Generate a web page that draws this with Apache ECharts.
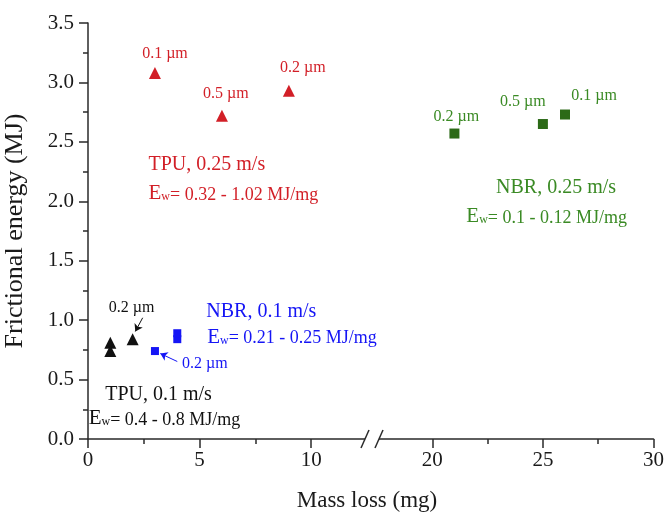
<!DOCTYPE html>
<html>
<head>
<meta charset="utf-8">
<script src="https://cdn.jsdelivr.net/npm/echarts@6/dist/echarts.min.js"></script>
<style>html,body{margin:0;padding:0;background:#fff}#c{width:667px;height:517px}</style>
</head>
<body>
<div id="c"></div>
<script>
// ---- data ----
const tpu025X = [3, 6, 9];
const tpu025Y = [3.08, 2.72, 2.93];
const tpu025Labels = ['0.1 µm', '0.5 µm', '0.2 µm'];

const nbr025X = [21, 25, 26];
const nbr025Y = [2.57, 2.65, 2.73];
const nbr025Labels = ['0.2 µm', '0.5 µm', '0.1 µm'];

const tpu01X = [1, 1, 2];
const tpu01Y = [0.81, 0.74, 0.84];

const nbr01X = [3, 4, 4];
const nbr01Y = [0.74, 0.84, 0.89];

const yTicks = [0, 0.5, 1, 1.5, 2, 2.5, 3, 3.5];
const xTicksLeft = [0, 5, 10];
const xTicksRight = [20, 25, 30];
const xMinorLeft = [2.5, 7.5];
const xMinorRight = [22.5, 27.5];

// ---- styling ----
const FONT = '"Liberation Serif", "Times New Roman", serif';
const RED = '#d21f27', GREEN_M = '#2c6a17', GREEN_T = '#3a8a24', BLUE = '#1515f5', BLACK = '#111';
const AXIS = '#2a2a2a';

function zip(xs, ys) { return xs.map((x, i) => [x, ys[i]]); }

function ewRich(color) {
  return {
    E: { fontFamily: FONT, fontSize: 21, color: color, verticalAlign: 'bottom', lineHeight: 22 },
    w: { fontFamily: FONT, fontSize: 12, color: color, verticalAlign: 'bottom', lineHeight: 22, padding: [0, 0, 1, 0] },
    t: { fontFamily: FONT, fontSize: 18, color: color, verticalAlign: 'bottom', lineHeight: 22 }
  };
}
function note(x, y, text, color, size, rich) {
  return {
    value: [x, y],
    label: {
      show: true, position: 'right', distance: 0, formatter: text,
      color: color, fontFamily: FONT, fontSize: size, rich: rich
    }
  };
}

const pointLabelOffsets025 = [[10, -19], [4, -22], [14, -23]];
const pointLabelOffsetsNbr = [[2, -17], [-20, -22], [29, -19]];

const leftGrid = { left: 88, top: 23, width: 279, height: 416 };
const rightGrid = { left: 377, top: 23, width: 279, height: 416 };

function mainX(gridIndex, min, max, ticks) {
  return {
    type: 'value', gridIndex: gridIndex, min: min, max: max, position: 'bottom',
    axisLine: { show: true, onZero: false, lineStyle: { color: AXIS, width: 1.5 } },
    axisTick: { show: true, inside: false, length: 9, customValues: ticks, lineStyle: { color: AXIS, width: 1.5 } },
    axisLabel: { show: true, customValues: ticks, margin: 11, fontFamily: FONT, fontSize: 21, color: '#1a1a1a' },
    splitLine: { show: false }
  };
}
function minorX(gridIndex, min, max, ticks) {
  return {
    type: 'value', gridIndex: gridIndex, min: min, max: max, position: 'bottom',
    axisLine: { show: false, onZero: false },
    axisTick: { show: true, inside: false, length: 5, customValues: ticks, lineStyle: { color: AXIS, width: 1.5 } },
    axisLabel: { show: false },
    splitLine: { show: false }
  };
}

const option = {
  backgroundColor: '#fff',
  animation: false,
  grid: [leftGrid, rightGrid],
  xAxis: [
    mainX(0, 0, 12.5, xTicksLeft),
    mainX(1, 17.5, 30, xTicksRight),
    minorX(0, 0, 12.5, xMinorLeft),
    minorX(1, 17.5, 30, xMinorRight)
  ],
  yAxis: [
    {
      type: 'value', gridIndex: 0, min: 0, max: 3.5, interval: 0.5,
      name: 'Frictional energy (MJ)', nameLocation: 'middle', nameRotate: 90, nameGap: 60,
      nameTextStyle: { fontFamily: FONT, fontSize: 26, color: '#1a1a1a' },
      axisLine: { show: true, onZero: false, lineStyle: { color: AXIS, width: 1.5 } },
      axisTick: { show: true, inside: false, length: 9, lineStyle: { color: AXIS, width: 1.5 } },
      minorTick: { show: true, splitNumber: 2, length: 5, lineStyle: { color: AXIS, width: 1.5 } },
      axisLabel: { margin: 14, fontFamily: FONT, fontSize: 21, color: '#1a1a1a', formatter: v => v.toFixed(1),
        customValues: yTicks },
      splitLine: { show: false }
    },
    {
      type: 'value', gridIndex: 1, min: 0, max: 3.5, interval: 0.5, show: false,
      splitLine: { show: false }
    }
  ],
  series: [
    {
      name: 'TPU, 0.25 m/s', type: 'scatter', xAxisIndex: 0, yAxisIndex: 0,
      symbol: 'triangle', symbolSize: 12, itemStyle: { color: RED, opacity: 1 },
      data: zip(tpu025X, tpu025Y).map((v, i) => ({
        value: v,
        label: { show: true, position: 'inside', offset: pointLabelOffsets025[i], formatter: tpu025Labels[i],
          color: RED, fontFamily: FONT, fontSize: 16 }
      }))
    },
    {
      name: 'NBR, 0.25 m/s', type: 'scatter', xAxisIndex: 1, yAxisIndex: 1,
      symbol: 'rect', symbolSize: 10, itemStyle: { color: GREEN_M, opacity: 1 },
      data: zip(nbr025X, nbr025Y).map((v, i) => ({
        value: v,
        label: { show: true, position: 'inside', offset: pointLabelOffsetsNbr[i], formatter: nbr025Labels[i],
          color: GREEN_T, fontFamily: FONT, fontSize: 16 }
      }))
    },
    {
      name: 'TPU, 0.1 m/s', type: 'scatter', xAxisIndex: 0, yAxisIndex: 0,
      symbol: 'triangle', symbolSize: 12, itemStyle: { color: BLACK, opacity: 1 },
      data: zip(tpu01X, tpu01Y),
      markLine: {
        silent: true, symbol: ['none', 'arrow'], symbolSize: 7,
        lineStyle: { color: BLACK, width: 1, type: 'solid', opacity: 1 }, label: { show: false },
        data: [[{ coord: [2.45, 1.02] }, { coord: [2.12, 0.905] }]]
      }
    },
    {
      name: 'NBR, 0.1 m/s', type: 'scatter', xAxisIndex: 0, yAxisIndex: 0,
      symbol: 'rect', symbolSize: 8, itemStyle: { color: BLUE, opacity: 1 },
      data: zip(nbr01X, nbr01Y),
      markLine: {
        silent: true, symbol: ['none', 'arrow'], symbolSize: 7,
        lineStyle: { color: BLUE, width: 1, type: 'solid', opacity: 1 }, label: { show: false },
        data: [[{ coord: [4.0, 0.652] }, { coord: [3.24, 0.719] }]]
      }
    },
    {
      name: 'notesLeft', type: 'scatter', xAxisIndex: 0, yAxisIndex: 0, symbolSize: 0, silent: true,
      itemStyle: { color: 'transparent', opacity: 1 },
      data: [
        note(2.71, 2.31, 'TPU, 0.25 m/s', RED, 20),
        note(2.71, 2.07, '{E|E}{w|w}{t|= 0.32 - 1.02 MJ/mg}', RED, 20, ewRich(RED)),
        note(5.30, 1.072, 'NBR, 0.1 m/s', BLUE, 20),
        note(5.34, 0.862, '{E|E}{w|w}{t|= 0.21 - 0.25 MJ/mg}', BLUE, 20, ewRich(BLUE)),
        note(0.77, 0.374, 'TPU, 0.1 m/s', BLACK, 20),
        note(0.03, 0.178, '{E|E}{w|w}{t|= 0.4 - 0.8 MJ/mg}', BLACK, 20, ewRich(BLACK)),
        note(0.93, 1.10, '0.2 µm', BLACK, 16),
        note(4.21, 0.632, '0.2 µm', BLUE, 16)
      ]
    },
    {
      name: 'notesRight', type: 'scatter', xAxisIndex: 1, yAxisIndex: 1, symbolSize: 0, silent: true,
      itemStyle: { color: 'transparent', opacity: 1 },
      data: [
        note(22.88, 2.113, 'NBR, 0.25 m/s', GREEN_T, 20),
        note(21.54, 1.874, '{E|E}{w|w}{t|= 0.1 - 0.12 MJ/mg}', GREEN_T, 20, ewRich(GREEN_T))
      ]
    }
  ]
};

const chart = echarts.init(document.getElementById('c'), null, { renderer: 'canvas' });
chart.setOption(option);

// axis-break marks and x-axis title placed from the axes' own scales
const bx1 = chart.convertToPixel({ xAxisIndex: 0 }, 12.5);
const bx2 = chart.convertToPixel({ xAxisIndex: 1 }, 17.5);
const by = chart.convertToPixel({ yAxisIndex: 0 }, 0);
chart.setOption({
  graphic: [
    { type: 'text', x: 367, y: 501, style: { text: 'Mass loss (mg)', font: '23px ' + FONT, fill: '#1a1a1a', align: 'center', verticalAlign: 'middle' } },
    { type: 'rect', shape: { x: bx1 - 2, y: by - 6, width: bx2 - bx1 + 4, height: 12 }, style: { fill: '#fff' }, z: 100 },
    { type: 'line', shape: { x1: bx1 - 6, y1: by + 9, x2: bx1 + 2, y2: by - 9 }, style: { stroke: AXIS, lineWidth: 1.5 }, z: 101 },
    { type: 'line', shape: { x1: bx2 - 2, y1: by + 9, x2: bx2 + 6, y2: by - 9 }, style: { stroke: AXIS, lineWidth: 1.5 }, z: 101 }
  ]
});
</script>
</body>
</html>
